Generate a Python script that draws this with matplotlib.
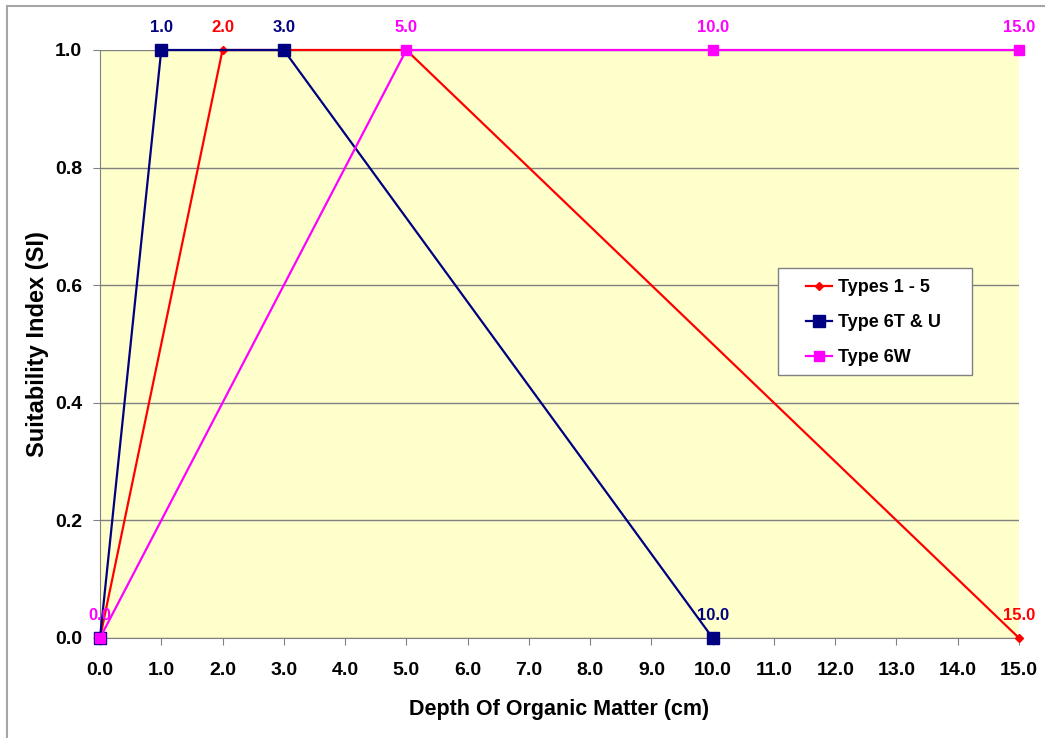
import matplotlib.pyplot as plt
from matplotlib.patches import Rectangle

plt.rcParams['font.family'] = ['Liberation Sans', 'DejaVu Sans']
plt.rcParams['font.weight'] = 'bold'

# data: depth of organic matter (cm) vs suitability index
x_types_1_5 = [0.0, 2.0, 5.0, 15.0]
y_types_1_5 = [0.0, 1.0, 1.0, 0.0]
x_type_6tu = [0.0, 1.0, 3.0, 10.0]
y_type_6tu = [0.0, 1.0, 1.0, 0.0]
x_type_6w = [0.0, 5.0, 10.0, 15.0]
y_type_6w = [0.0, 1.0, 1.0, 1.0]

# which points carry a value label
lab_types_1_5 = [False, True, False, True]
lab_type_6tu = [False, True, True, True]
lab_type_6w = [True, True, True, True]

x_ticks = [float(i) for i in range(16)]
y_ticks = [0.0, 0.2, 0.4, 0.6, 0.8, 1.0]

W, H = 1045, 738
fig = plt.figure(figsize=(W / 100, H / 100), dpi=100)
# outer chart frame
fig.patches.append(Rectangle((7 / W, -0.1), 1.2, 1 - 6 / H + 0.1, transform=fig.transFigure,
                             fill=False, edgecolor='#a6a6a6', linewidth=1.5))

ax = fig.add_axes([100 / W, 1 - 638 / H, 919 / W, 588 / H])
ax.set_facecolor('#FFFFCC')

series = [
    (x_types_1_5, y_types_1_5, lab_types_1_5, '#FF0000', 'D', 4.5, 'Types 1 - 5'),
    (x_type_6tu, y_type_6tu, lab_type_6tu, '#000080', 's', 8, 'Type 6T & U'),
    (x_type_6w, y_type_6w, lab_type_6w, '#FF00FF', 's', 7, 'Type 6W'),
]
for xs, ys, labs, col, mk, ms, name in series:
    ax.plot(xs, ys, color=col, marker=mk, markersize=ms, linewidth=1.6, label=name,
            clip_on=False, zorder=3)
    for px, py, show in zip(xs, ys, labs):
        if show:
            ax.annotate(f"{px:.1f}", (px, py), xytext=(0, 10.5), textcoords='offset points',
                        ha='center', va='bottom', color=col, fontsize=12, fontweight='bold',
                        zorder=4)

ax.set_xlim(0, 15)
ax.set_ylim(0, 1)
ax.set_xticks(x_ticks)
ax.set_xticklabels([f"{t:.1f}" for t in x_ticks])
ax.set_yticks(y_ticks)
ax.set_yticklabels([f"{t:.1f}" for t in y_ticks])
ax.tick_params(axis='both', direction='out', length=5, color='#808080', labelsize=14)
ax.tick_params(axis='x', pad=12)
ax.tick_params(axis='y', pad=8)
ax.grid(axis='y', color='#808080', linewidth=1)
ax.set_axisbelow(True)
for s in ['top', 'right']:
    ax.spines[s].set_visible(False)
for s in ['left', 'bottom']:
    ax.spines[s].set_color('#808080')

ax.set_xlabel('Depth Of Organic Matter (cm)', fontsize=15.5, fontweight='bold', labelpad=15)
ax.set_ylabel('Suitability Index (SI)', fontsize=17, fontweight='bold', labelpad=4)

# legend box drawn separately so its size matches
ax.add_patch(Rectangle((778 / W, 1 - 375 / H), 194 / W, 107 / H, transform=fig.transFigure,
                       facecolor='white', edgecolor='#808080', linewidth=1, zorder=4.5,
                       clip_on=False))
leg = ax.legend(loc='upper left', bbox_to_anchor=(806 / W, 1 - 279 / H), bbox_transform=fig.transFigure,
                frameon=False, fontsize=13, handlelength=1.45, handletextpad=0.3,
                labelspacing=1.0, borderpad=0, borderaxespad=0)
leg.set_zorder(6)

fig.savefig('out.png', dpi=100)
